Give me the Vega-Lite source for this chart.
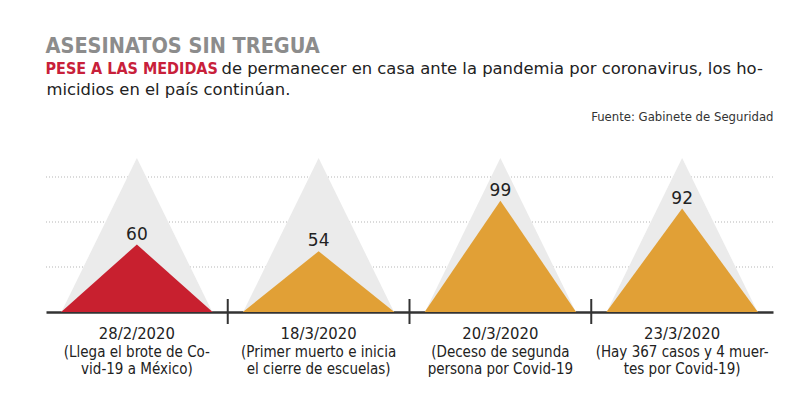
{
  "$schema": "https://vega.github.io/schema/vega-lite/v6.json",
  "padding": {"left": 45, "right": 22, "top": 36, "bottom": 5},
  "background": "white",
  "config": {
    "view": {"stroke": null},
    "font": "DejaVu Sans",
    "concat": {"spacing": 0}
  },
  "title": {
    "text": "ASESINATOS SIN TREGUA",
    "subtitle": "PESE A LAS MEDIDAS",
    "anchor": "start",
    "font": "DejaVu Sans Condensed",
    "fontSize": 21.5,
    "fontWeight": "bold",
    "color": "#8c8c8c",
    "subtitleFont": "DejaVu Sans Condensed",
    "subtitleFontSize": 16,
    "subtitleFontWeight": "bold",
    "subtitleColor": "#c8203a",
    "subtitlePadding": 3,
    "offset": -16
  },
  "data": {
    "values": [
      {"fecha": "28/2/2020", "nota": "(Llega el brote de Co-\nvid-19 a México)", "punto": "pico", "casos": 60},
      {"fecha": "18/3/2020", "nota": "(Primer muerto e inicia\nel cierre de escuelas)", "punto": "pico", "casos": 54},
      {"fecha": "20/3/2020", "nota": "(Deceso de segunda\npersona por Covid-19", "punto": "pico", "casos": 99},
      {"fecha": "23/3/2020", "nota": "(Hay 367 casos y 4 muer-\ntes por Covid-19)", "punto": "pico", "casos": 92}
    ]
  },
  "vconcat": [
    {
      "width": 727,
      "height": 180,
      "title": {
        "text": "de permanecer en casa ante la pandemia por coronavirus, los ho-",
        "anchor": "start",
        "dx": 176,
        "font": "DejaVu Sans",
        "fontSize": 16.4,
        "fontWeight": "normal",
        "color": "#222222",
        "offset": 4
      },
      "resolve": {"axis": {"x": "independent"}},
      "layer": [
        {
          "data": {"values": [{"nivel": 40}, {"nivel": 80}, {"nivel": 120}]},
          "mark": {"type": "rule", "color": "#b5b5b5", "strokeWidth": 1, "strokeDash": [1, 2]},
          "encoding": {
            "y": {
              "field": "nivel",
              "type": "quantitative",
              "scale": {"domain": [0, 160], "nice": false, "zero": true},
              "axis": null
            }
          }
        },
        {
          "mark": {
            "type": "point",
            "shape": "M0,-2L-0.98,0L0.98,0Z",
            "size": 23716,
            "filled": true,
            "color": "#ebebeb",
            "opacity": 1,
            "strokeWidth": 0
          },
          "encoding": {
            "x": {
              "field": "fecha",
              "type": "nominal",
              "scale": {"type": "band", "domain": ["28/2/2020", "18/3/2020", "20/3/2020", "23/3/2020"], "paddingInner": 0, "paddingOuter": 0},
              "axis": {
                "orient": "bottom",
                "labels": false,
                "ticks": false,
                "grid": false,
                "title": null,
                "domain": true,
                "domainColor": "#333333",
                "domainWidth": 2.5
              }
            },
            "y": {"datum": 0, "type": "quantitative", "axis": null}
          }
        },
        {
          "transform": [
            {"impute": "casos", "key": "punto", "keyvals": ["inicio", "pico", "termino"], "groupby": ["fecha"], "value": 0}
          ],
          "mark": {"type": "line", "strokeWidth": 0, "interpolate": "linear"},
          "encoding": {
            "x": {
              "field": "fecha",
              "type": "nominal",
              "scale": {"type": "band", "domain": ["28/2/2020", "18/3/2020", "20/3/2020", "23/3/2020"], "paddingInner": 0, "paddingOuter": 0},
              "axis": {
                "orient": "top",
                "labels": false,
                "ticks": false,
                "domain": false,
                "grid": false,
                "title": "micidios en el país continúan.",
                "titleAnchor": "start",
                "titleAlign": "left",
                "titleFont": "DejaVu Sans",
                "titleFontSize": 16.4,
                "titleFontWeight": "normal",
                "titleColor": "#222222",
                "titlePadding": 35
              }
            },
            "xOffset": {
              "field": "punto",
              "type": "nominal",
              "scale": {"type": "point", "padding": 0.2, "domain": ["inicio", "pico", "termino"]}
            },
            "y": {"field": "casos", "type": "quantitative", "axis": null},
            "order": {"field": "punto", "type": "ordinal"},
            "fill": {
              "field": "fecha",
              "type": "nominal",
              "scale": {
                "domain": ["28/2/2020", "18/3/2020", "20/3/2020", "23/3/2020"],
                "range": ["#c8202f", "#e1a036", "#e1a036", "#e1a036"]
              },
              "legend": null
            }
          }
        },
        {
          "mark": {"type": "text", "baseline": "alphabetic", "dy": -5, "font": "DejaVu Sans", "fontSize": 17, "color": "#222222"},
          "encoding": {
            "x": {"field": "fecha", "type": "nominal", "axis": null},
            "y": {"field": "casos", "type": "quantitative", "axis": null},
            "text": {"field": "casos", "type": "quantitative"}
          }
        },
        {
          "transform": [{"filter": "datum.fecha !== '28/2/2020'"}],
          "mark": {"type": "rule", "color": "#333333", "strokeWidth": 2, "yOffset": -13, "y2Offset": 12},
          "encoding": {
            "x": {
              "field": "fecha",
              "type": "nominal",
              "bandPosition": 0,
              "axis": {
                "orient": "top",
                "labels": false,
                "ticks": false,
                "domain": false,
                "grid": false,
                "title": "Fuente: Gabinete de Seguridad",
                "titleAnchor": "end",
                "titleAlign": "right",
                "titleFont": "DejaVu Sans Condensed",
                "titleFontSize": 13,
                "titleFontWeight": "normal",
                "titleColor": "#333333",
                "titlePadding": 9
              }
            },
            "y": {"datum": 0, "type": "quantitative", "axis": null},
            "y2": {"datum": 0}
          }
        },
        {
          "mark": {"type": "text", "baseline": "alphabetic", "dy": 27, "font": "DejaVu Sans Condensed", "fontSize": 16.5, "color": "#222222"},
          "encoding": {
            "x": {"field": "fecha", "type": "nominal", "axis": null},
            "y": {"datum": 0, "type": "quantitative", "axis": null},
            "text": {"field": "fecha", "type": "nominal"}
          }
        },
        {
          "mark": {"type": "text", "baseline": "alphabetic", "dy": 45, "lineHeight": 17, "lineBreak": "\n", "font": "DejaVu Sans Condensed", "fontSize": 15, "color": "#222222"},
          "encoding": {
            "x": {"field": "fecha", "type": "nominal", "axis": null},
            "y": {"datum": 0, "type": "quantitative", "axis": null},
            "text": {"field": "nota", "type": "nominal"}
          }
        }
      ]
    }
  ]
}
